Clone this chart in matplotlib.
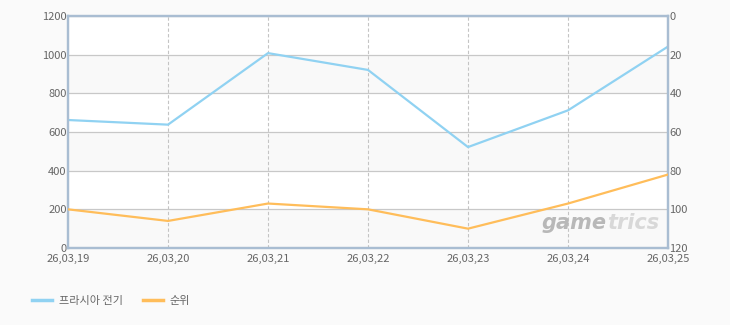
import matplotlib.pyplot as plt
from matplotlib.lines import Line2D

plt.rcParams['font.family'] = ['Noto Sans CJK KR', 'DejaVu Sans']

dates = ["26,03,19", "26,03,20", "26,03,21", "26,03,22", "26,03,23", "26,03,24", "26,03,25"]
players = [662, 638, 1008, 921, 522, 712, 1042]
rank = [100, 106, 97, 100, 110, 97, 82]

blue = "#90d2f2"
orange = "#ffbd5a"
spine_col = "#a9bdd2"
text_col = "#666666"

fig = plt.figure(figsize=(7.3, 3.25), dpi=100)
fig.patch.set_facecolor("#fafafa")
ax = fig.add_axes([68 / 730, 77 / 325, 600 / 730, 232 / 325])
ax.set_facecolor("white")

x = list(range(len(dates)))

# alternating bands
for lo in range(0, 1200, 400):
    ax.axhspan(lo, lo + 200, color="#f9f9f9", zorder=0, lw=0)

ax.plot(x, players, color=blue, lw=1.6, zorder=3, solid_joinstyle="round")
ax.set_xlim(0, len(dates) - 1)
ax.set_ylim(0, 1200)
ax.set_yticks(range(0, 1201, 200))
ax.set_xticks(x)
ax.set_xticklabels(dates)
ax.grid(axis="y", color="#c8c8c8", lw=0.9, zorder=1)
for xi in x[1:-1]:
    ax.axvline(xi, color="#c4c4c4", lw=0.8, ls=(0, (3, 2)), zorder=1)

ax2 = ax.twinx()
ax2.plot(x, rank, color=orange, lw=1.6, zorder=3, solid_joinstyle="round")
ax2.set_ylim(120, 0)
ax2.set_yticks(range(0, 121, 20))

for a in (ax, ax2):
    for s in a.spines.values():
        s.set_color(spine_col)
        s.set_linewidth(1.6)
    a.tick_params(length=0, labelsize=8, labelcolor=text_col, pad=1)
ax.tick_params(axis="x", pad=4)

# watermark
ax.text(0.898, 0.065, "game", transform=ax.transAxes, ha="right", va="bottom",
        fontsize=15, fontstyle="italic", fontweight="bold", color="#b8b8b8",
        family="DejaVu Sans", zorder=2)
ax.text(0.898, 0.065, "trics", transform=ax.transAxes, ha="left", va="bottom",
        fontsize=15, fontstyle="italic", fontweight="bold", color="#d8d8d8",
        family="DejaVu Sans", zorder=2)

handles = [Line2D([], [], color=blue, lw=2.5), Line2D([], [], color=orange, lw=2.5)]
fig.legend(handles, ["프라시아 전기", "순위"], loc="center left",
           bbox_to_anchor=(0.03, 0.075), ncol=2, frameon=False, fontsize=8,
           labelcolor=text_col, handlelength=1.8, handletextpad=0.6, columnspacing=1.8)

fig.savefig("out.png", dpi=100, facecolor=fig.get_facecolor())
